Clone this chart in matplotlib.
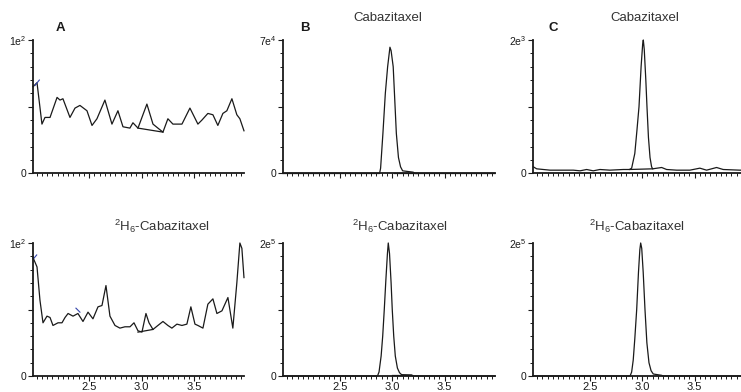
import matplotlib.pyplot as plt
from matplotlib.ticker import FixedLocator, MultipleLocator

plt.rcParams['font.family'] = ['Liberation Sans', 'DejaVu Sans']
plt.rcParams['mathtext.fontset'] = 'custom'
plt.rcParams['mathtext.rm'] = 'Liberation Sans'
plt.rcParams['mathtext.default'] = 'regular'

# retention time window (min)
t_min, t_max = 1.96, 3.98

# all intensities are fractions of each panel's full scale
# A top: blank, analyte channel
a_top_t = [1.965, 2.003, 2.05, 2.079, 2.127, 2.194, 2.222, 2.25, 2.317, 2.365,
           2.412, 2.479, 2.527, 2.574, 2.65, 2.717, 2.774, 2.822, 2.888, 2.917,
           2.965, 3.05, 3.108, 3.155, 3.203, 3.25, 3.298, 3.384, 3.46, 3.536,
           3.574, 3.631, 3.679, 3.726, 3.774, 3.812, 3.86, 3.907, 3.936, 3.975]
a_top_y = [0.65, 0.68, 0.37, 0.42, 0.42, 0.57, 0.55, 0.56, 0.42, 0.49,
           0.51, 0.47, 0.36, 0.41, 0.55, 0.37, 0.47, 0.35, 0.34, 0.38,
           0.34, 0.52, 0.37, 0.34, 0.31, 0.41, 0.37, 0.37, 0.49, 0.37,
           0.40, 0.45, 0.44, 0.36, 0.45, 0.47, 0.56, 0.44, 0.41, 0.32]
a_top_base_t = [2.965, 3.203]
a_top_base_y = [0.34, 0.31]
a_top_mark_t = [1.984, 2.025]
a_top_mark_y = [0.66, 0.70]

# A bottom: blank, internal standard channel
a_bot_t = [1.965, 2.003, 2.031, 2.06, 2.098, 2.127, 2.155, 2.203, 2.241, 2.27,
           2.299, 2.346, 2.393, 2.441, 2.489, 2.536, 2.584, 2.622, 2.66, 2.698,
           2.746, 2.793, 2.841, 2.889, 2.927, 2.965, 3.003, 3.041, 3.07, 3.108,
           3.155, 3.203, 3.25, 3.288, 3.336, 3.384, 3.431, 3.469, 3.508, 3.536,
           3.584, 3.631, 3.679, 3.717, 3.765, 3.822, 3.869, 3.907, 3.936, 3.955,
           3.975]
a_bot_y = [0.89, 0.82, 0.57, 0.40, 0.45, 0.44, 0.38, 0.40, 0.40, 0.44,
           0.47, 0.45, 0.47, 0.41, 0.48, 0.43, 0.52, 0.53, 0.68, 0.45,
           0.38, 0.36, 0.37, 0.37, 0.40, 0.34, 0.33, 0.47, 0.40, 0.35,
           0.38, 0.41, 0.38, 0.36, 0.39, 0.38, 0.39, 0.52, 0.39, 0.38,
           0.36, 0.54, 0.58, 0.47, 0.49, 0.59, 0.36, 0.70, 1.00, 0.96,
           0.74]
a_bot_base_t = [2.965, 3.108]
a_bot_base_y = [0.33, 0.35]
a_bot_mark1_t = [1.968, 2.0]
a_bot_mark1_y = [0.88, 0.91]
a_bot_mark2_t = [2.374, 2.412]
a_bot_mark2_y = [0.51, 0.48]

# B top: analyte peak
b_top_t = [1.96, 2.5, 2.88, 2.89, 2.912, 2.935, 2.957, 2.979, 2.99, 3.01,
           3.025, 3.04, 3.06, 3.08, 3.1, 3.2, 3.22, 3.98]
b_top_y = [0.0, 0.0, 0.0, 0.04, 0.30, 0.60, 0.80, 0.946, 0.92, 0.80,
           0.55, 0.30, 0.12, 0.05, 0.02, 0.01, 0.0, 0.0]
b_top_base_t = [3.02, 3.24]
b_top_base_y = [0.004, 0.004]

# B bottom: internal standard peak
b_bot_t = [1.96, 2.5, 2.86, 2.875, 2.895, 2.91, 2.925, 2.94, 2.955, 2.963,
           2.975, 2.99, 3.001, 3.015, 3.03, 3.05, 3.07, 3.09, 3.185, 3.2, 3.98]
b_bot_y = [0.0, 0.0, 0.0, 0.03, 0.15, 0.30, 0.50, 0.72, 0.92, 1.0,
           0.92, 0.70, 0.50, 0.30, 0.15, 0.06, 0.025, 0.01, 0.008, 0.0, 0.0]
b_bot_base_t = [3.0, 3.19]
b_bot_base_y = [0.004, 0.004]

# C top: analyte peak with noisy baseline
c_top_t = [1.963, 1.995, 2.122, 2.344, 2.408, 2.471, 2.534, 2.598, 2.693, 2.82,
           2.88, 2.9, 2.93, 2.95, 2.97, 2.99, 3.005, 3.011, 3.02, 3.035,
           3.046, 3.06, 3.075, 3.09, 3.1, 3.186, 3.233, 3.329, 3.455, 3.55,
           3.614, 3.709, 3.772, 3.93, 3.98]
c_top_y = [0.05, 0.035, 0.025, 0.025, 0.02, 0.03, 0.02, 0.03, 0.025, 0.03,
           0.03, 0.04, 0.15, 0.32, 0.50, 0.80, 0.97, 1.0, 0.93, 0.70,
           0.50, 0.27, 0.12, 0.05, 0.035, 0.045, 0.03, 0.025, 0.025, 0.04,
           0.025, 0.045, 0.03, 0.025, 0.025]
c_top_base_t = [2.88, 3.10]
c_top_base_y = [0.03, 0.035]

# C bottom: internal standard peak
c_bot_t = [1.96, 2.5, 2.885, 2.9, 2.915, 2.93, 2.948, 2.965, 2.978, 2.986,
           2.996, 3.01, 3.027, 3.045, 3.065, 3.085, 3.106, 3.186, 3.2, 3.98]
c_bot_y = [0.0, 0.0, 0.0, 0.03, 0.12, 0.28, 0.50, 0.78, 0.95, 1.0,
           0.96, 0.78, 0.50, 0.25, 0.10, 0.04, 0.015, 0.005, 0.0, 0.0]

full_scale = ['1e$^{2}$', '7e$^{4}$', '2e$^{3}$', '1e$^{2}$', '2e$^{5}$', '2e$^{5}$']
panel_letters = ['A', 'B', 'C']
analyte = 'Cabazitaxel'
istd = '$^{2}$H$_{6}$-Cabazitaxel'

W, H = 741, 392
ink = '#1a1a1a'

fig = plt.figure(figsize=(W / 100, H / 100), dpi=100)


def px_rect(left, top, width, height):
    return [left / W, 1 - (top + height) / H, width / W, height / H]


def make_axes(left, top, height, scale_label, xlabels):
    ax = fig.add_axes(px_rect(left, top, 212, height))
    ax.set_xlim(t_min, t_max)
    ax.set_ylim(0, 1)
    for s in ['top', 'right']:
        ax.spines[s].set_visible(False)
    for s in ['left', 'bottom']:
        ax.spines[s].set_linewidth(1.3)
        ax.spines[s].set_color(ink)
    ax.xaxis.set_major_locator(FixedLocator([2.5, 3.0, 3.5]))
    ax.xaxis.set_minor_locator(MultipleLocator(0.05))
    ax.yaxis.set_major_locator(FixedLocator([0, 0.5, 1.0]))
    ax.yaxis.set_minor_locator(MultipleLocator(0.1))
    ax.set_yticklabels(['0', '', scale_label])
    if xlabels:
        ax.set_xticklabels(['2.5', '3.0', '3.5'])
    else:
        ax.set_xticklabels([])
    ax.tick_params(which='major', direction='out', length=3.5, width=0.8,
                   color=ink, labelsize=7.5, labelcolor=ink, pad=1)
    ax.tick_params(axis='x', which='major', labelsize=8)
    ax.tick_params(which='minor', direction='out', length=2.5, width=0.7, color=ink)
    return ax


def trace(ax, t, y, color=ink, lw=0.9):
    ax.plot(t, y, color=color, lw=lw, clip_on=False, solid_joinstyle='round')


col_left = [32.5, 283, 533]
row_top = [40, 243]
row_h = [133.5, 133]

axA1 = make_axes(col_left[0], row_top[0], row_h[0], full_scale[0], False)
axB1 = make_axes(col_left[1], row_top[0], row_h[0], full_scale[1], False)
axC1 = make_axes(col_left[2], row_top[0], row_h[0], full_scale[2], False)
axA2 = make_axes(col_left[0], row_top[1], row_h[1], full_scale[3], True)
axB2 = make_axes(col_left[1], row_top[1], row_h[1], full_scale[4], True)
axC2 = make_axes(col_left[2], row_top[1], row_h[1], full_scale[5], True)

trace(axA1, a_top_t, a_top_y)
trace(axA1, a_top_base_t, a_top_base_y)
trace(axA1, a_top_mark_t, a_top_mark_y, color='#3344aa', lw=0.8)

trace(axA2, a_bot_t, a_bot_y)
trace(axA2, a_bot_base_t, a_bot_base_y)
trace(axA2, a_bot_mark1_t, a_bot_mark1_y, color='#3344aa', lw=0.8)
trace(axA2, a_bot_mark2_t, a_bot_mark2_y, color='#3344aa', lw=0.8)

trace(axB1, b_top_t, b_top_y)
trace(axB1, b_top_base_t, b_top_base_y)
trace(axB2, b_bot_t, b_bot_y)
trace(axB2, b_bot_base_t, b_bot_base_y)

trace(axC1, c_top_t, c_top_y)
trace(axC1, c_top_base_t, c_top_base_y)
trace(axC2, c_bot_t, c_bot_y)

# panel letters
for letter, x in zip(panel_letters, [60, 305, 553]):
    fig.text(x / W, 1 - 28 / H, letter, fontsize=9.5, fontweight='bold',
             color=ink, ha='center', va='center')

# channel titles
fig.text(388 / W, 1 - 18 / H, analyte, fontsize=9.5, color='#333333', ha='center', va='center')
fig.text(645 / W, 1 - 18 / H, analyte, fontsize=9.5, color='#333333', ha='center', va='center')
for x in [162, 400, 637]:
    fig.text(x / W, 1 - 226 / H, istd, fontsize=9.5, color='#333333', ha='center', va='center')

fig.savefig('out.png', dpi=100)
